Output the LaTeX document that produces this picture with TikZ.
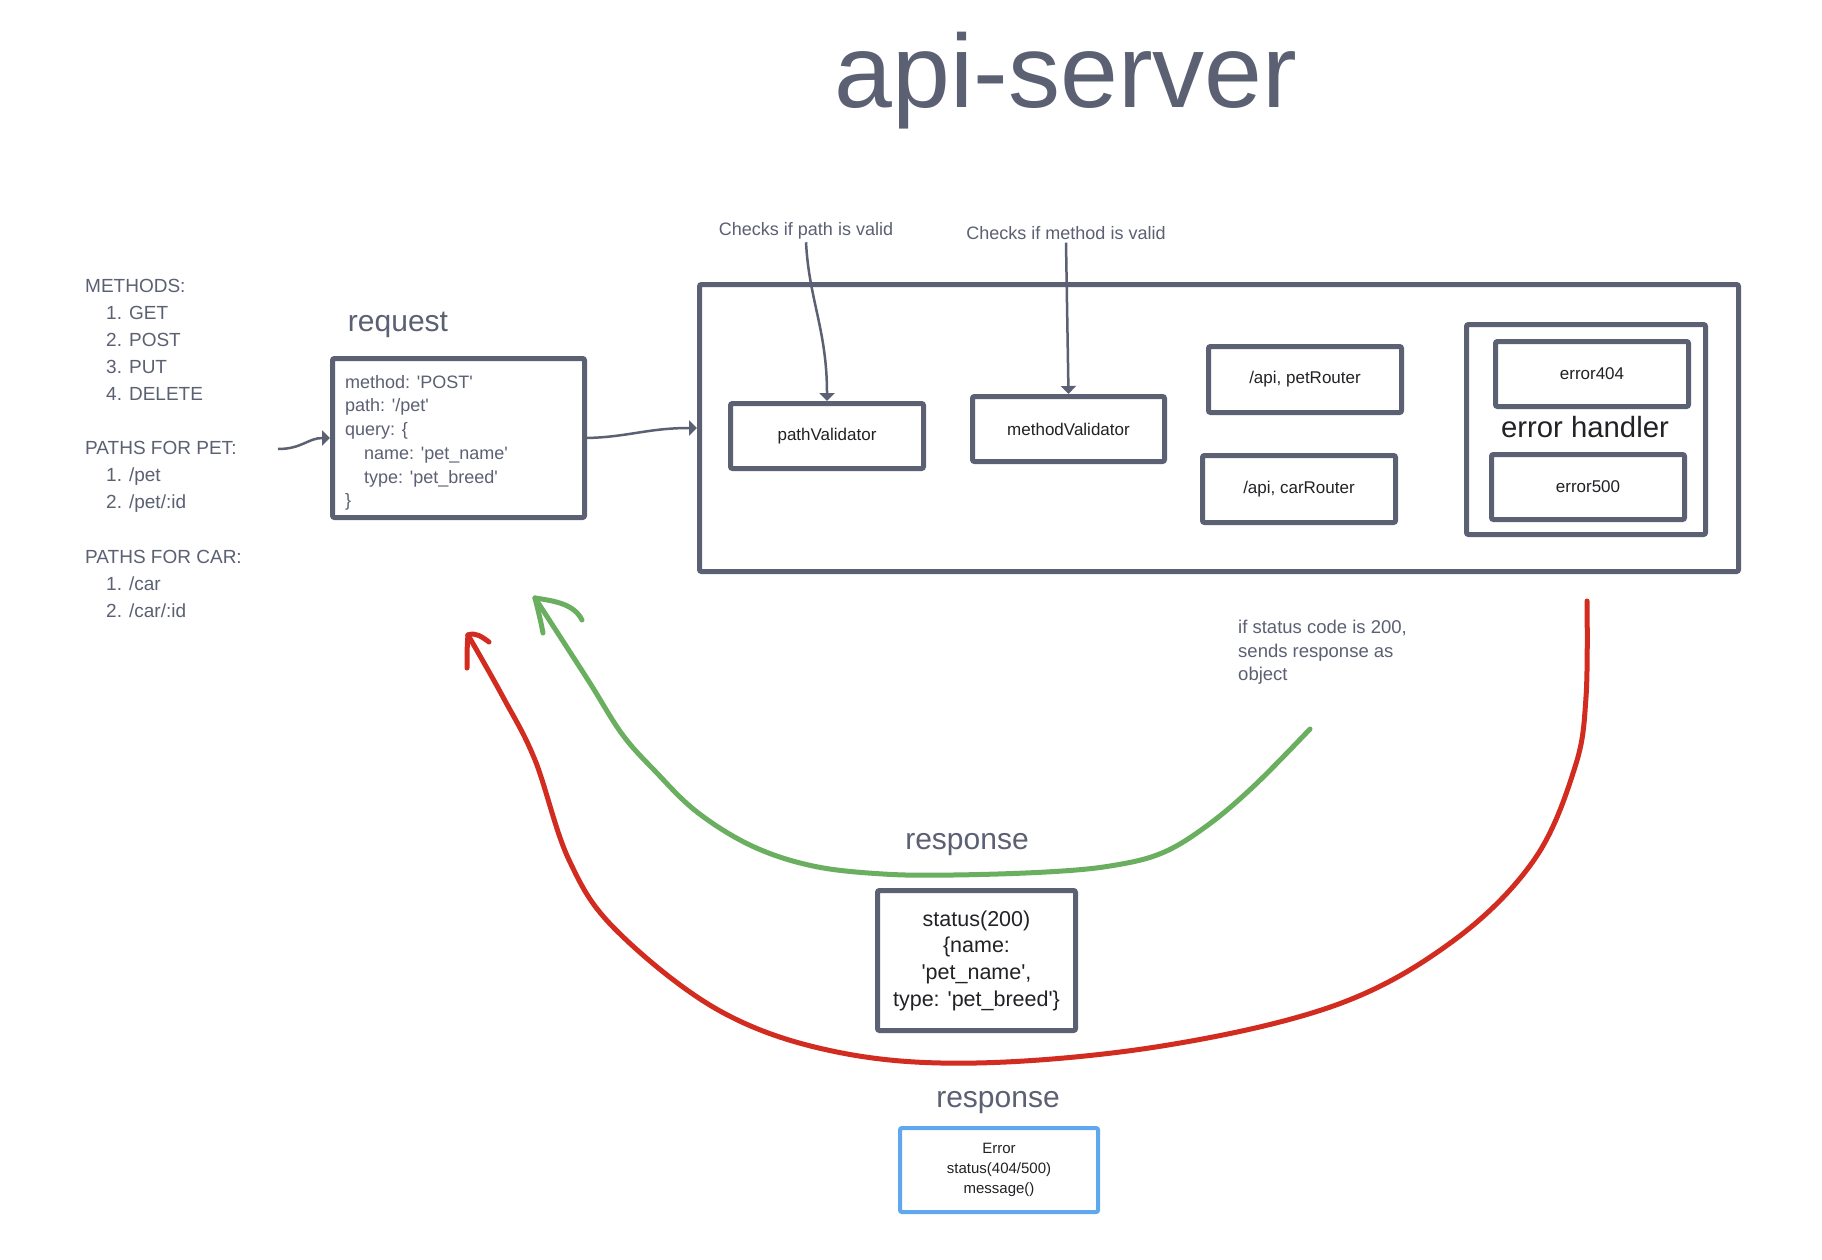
\documentclass[tikz,border=0pt]{standalone}
\usepackage{fontspec}
\setmainfont{Liberation Sans}[Ligatures=TeXOff]
\usetikzlibrary{arrows.meta}
\definecolor{slate}{RGB}{91,96,115}
\definecolor{ink}{RGB}{34,34,38}
\definecolor{okgreen}{RGB}{106,174,95}
\definecolor{errred}{RGB}{210,43,31}
\definecolor{errblue}{RGB}{96,168,238}
\newcommand\myfs[2]{\fontsize{#1}{#2}\selectfont}
\begin{document}
\begin{tikzpicture}[x=1pt,y=-1pt,
  box/.style={draw=slate, line width=5pt, rounded corners=2pt, inner sep=0pt},
  smallbox/.style={box, minimum width=193pt, minimum height=65pt, font=\myfs{17}{20}, text=ink},
  conn/.style={draw=slate, line width=2.5pt, -{Triangle[length=8pt,width=15pt]}},
  lbl/.style={anchor=base, font=\myfs{30}{36}, text=slate},
  note/.style={font=\myfs{18}{21}, text=slate},
  hand/.style={line width=5pt, line cap=round, line join=round}]
\useasboundingbox (0,0) rectangle (1822,1260);
\fill[white] (0,0) rectangle (1822,1260);

% title
\node[anchor=base, font=\myfs{104}{110}, text=slate] (title) at (1066,108) {api-server};

% left list
\node[anchor=north west, align=left, inner sep=0pt, font=\myfs{19}{26.9}, text=slate] (list) at (85,279)
  {METHODS:\\
   \hspace*{21pt}1. GET\\
   \hspace*{21pt}2. POST\\
   \hspace*{21pt}3. PUT\\
   \hspace*{21pt}4. DELETE\\[28pt]
   PATHS FOR PET:\\
   \hspace*{21pt}1. /pet\\
   \hspace*{21pt}2. /pet/:id\\[28pt]
   PATHS FOR CAR:\\
   \hspace*{21pt}1. /car\\
   \hspace*{21pt}2. /car/:id};

% request
\node[lbl] (reqlabel) at (398,331) {request};
\node[box, minimum width=252pt, minimum height=159pt] (req) at (458.5,438) {};
\node[anchor=north west, align=left, inner sep=0pt, font=\myfs{18}{23.7}, text=slate] (reqtext) at (345,375)
  {method: 'POST'\\
   path: '/pet'\\
   query: \{\\
   \hspace*{19pt}name: 'pet\_name'\\
   \hspace*{19pt}type: 'pet\_breed'\\
   \}};

% server
\node[box, minimum width=1039pt, minimum height=287pt] (server) at (1219,428) {};
\node[smallbox] (pathv) at (827,436) {pathValidator};
\node[smallbox, minimum width=192pt] (methodv) at (1068.5,429) {methodValidator};
\node[smallbox, minimum height=66pt] (petr) at (1305,379.5) {/api, petRouter};
\node[smallbox, minimum height=67pt] (carr) at (1299,489) {/api, carRouter};
\node[box, minimum width=239pt, minimum height=210pt] (errh) at (1586,429.5) {};
\node[smallbox] (e404) at (1592,374) {error404};
\node[smallbox] (e500) at (1588,487) {error500};
\node[font=\myfs{29.3}{34}, text=ink, inner sep=0pt] (ehlabel) at (1585,427) {error handler};

% annotations
\node[note, anchor=base] (chkpath) at (806,235) {Checks if path is valid};
\node[note, anchor=base] (chkmethod) at (1066,239) {Checks if method is valid};
\node[anchor=north west, align=left, inner sep=0pt, font=\myfs{18.5}{23.5}, text=slate] (okinfo) at (1238,620)
  {if status code is 200,\\ sends response as\\ object};

% connectors
\coordinate (listout) at (278,449);
\draw[conn] (listout) .. controls (302,449) and (308,438) .. (req.west);
\draw[conn] (req.east) .. controls (628,437) and (648,428) .. (server.west);
\draw[conn] (chkpath.south) .. controls (809,300) and (827,330) .. (pathv.north);
\draw[conn] (chkmethod.south) -- (methodv.north);

% responses
\node[lbl] (resp1) at (967,849) {response};
\node[box, minimum width=198pt, minimum height=140pt, align=center,
      font=\myfs{21.5}{26.7}, text=ink] (status) at (976.5,960.5)
  {status(200)\\ \{name:\\ 'pet\_name',\\ type: 'pet\_breed'\}};
\node[lbl] (resp2) at (998,1107) {response};
\node[draw=errblue, line width=4pt, rounded corners=2pt, inner sep=0pt,
      minimum width=198pt, minimum height=84pt, align=center,
      font=\myfs{15}{20}, text=ink] (errresp) at (999,1170)
  {Error\\ status(404/500)\\ message()};

% green (success) curve
\coordinate (gstart) at (1310,729);
\coordinate (gtip) at (535,598);
\draw[hand, okgreen] plot[smooth, tension=0.6] coordinates {(gstart) (1255,785) (1208,825) (1162,853) (1110,866) (1046,872) (953,875) (883,874) (813,866) (752,846) (697,812) (655,771) (622,734) (588,680) (gtip)};
\draw[hand, okgreen] (gtip) .. controls (538,610) and (541,622) .. (543,633);
\draw[hand, okgreen] (gtip) .. controls (555,601) and (574,604) .. (582,620);

% red (error) curve
\coordinate (rstart) at (1587,601);
\coordinate (rtip) at (468,635);
\draw[hand, errred] plot[smooth, tension=0.6] coordinates {(rstart) (1586,697) (1575,767) (1534,860) (1453,941) (1336,1005) (1162,1046) (976,1063) (837,1052) (720,1011) (616,930) (569,860) (535,760) (503,697) (rtip)};
\draw[hand, errred] (rtip) .. controls (467,645) and (467,658) .. (467,668);
\draw[hand, errred] (rtip) .. controls (476,632) and (482,637) .. (489,642);
\end{tikzpicture}
\end{document}
